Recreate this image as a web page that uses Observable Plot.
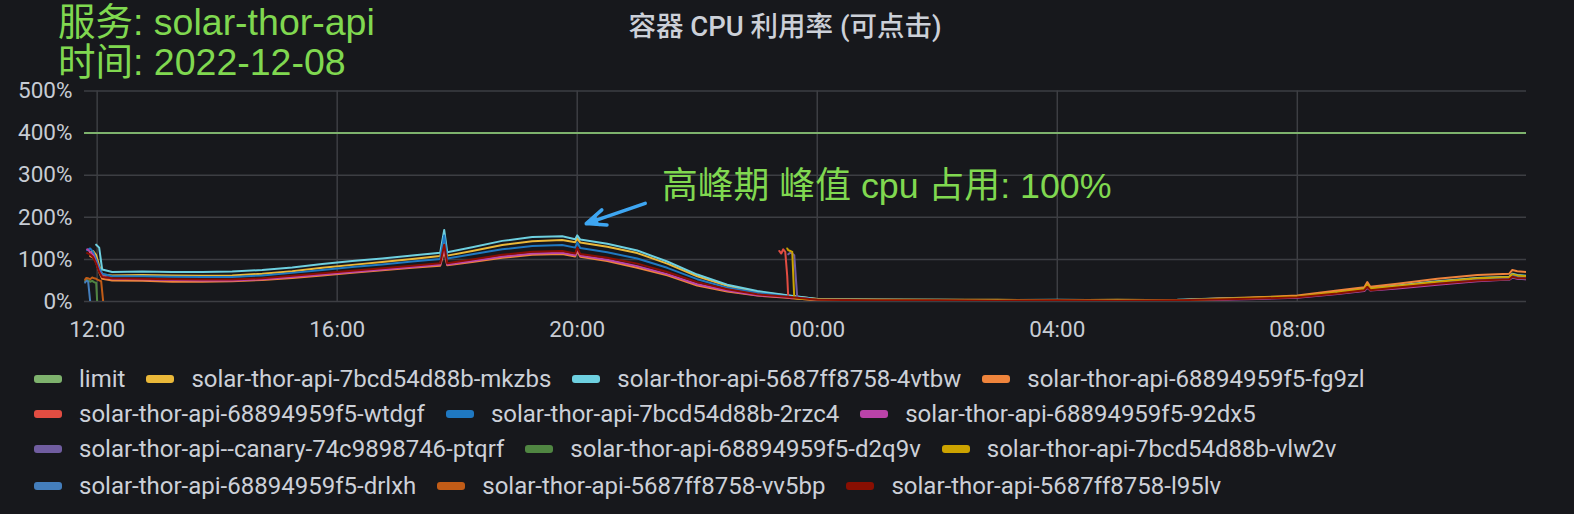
<!DOCTYPE html>
<html><head><meta charset="utf-8">
<script src="https://cdn.jsdelivr.net/npm/d3@7"></script>
<script src="https://cdn.jsdelivr.net/npm/@observablehq/plot@0.6"></script>
<style>
html,body{margin:0;padding:0;background:#17181c;}
#wrap{position:relative;width:1574px;height:514px;overflow:hidden;background:#17181c;}
#chart{position:absolute;left:0;top:0;}
#overlay{position:absolute;left:0;top:0;pointer-events:none;}
.row{position:absolute;left:34px;height:36px;display:flex;align-items:center;white-space:nowrap;}
.item{display:flex;align-items:center;margin-right:21px;}
.sw{width:28px;height:8px;border-radius:3px;margin-right:17px;flex:none;}
.lbl{color:#ccd0d8;font-family:Roboto,sans-serif;font-size:24px;}
</style>
</head><body>
<div id="wrap"><div id="chart"></div><svg id="overlay" width="1574" height="514"></svg><div id="legend"></div></div>
<script>
// ---------- data ----------
const seriesNames = ["limit","solar-thor-api-7bcd54d88b-mkzbs","solar-thor-api-5687ff8758-4vtbw","solar-thor-api-68894959f5-fg9zl",
  "solar-thor-api-68894959f5-wtdgf","solar-thor-api-7bcd54d88b-2rzc4","solar-thor-api-68894959f5-92dx5",
  "solar-thor-api--canary-74c9898746-ptqrf","solar-thor-api-68894959f5-d2q9v","solar-thor-api-7bcd54d88b-vlw2v",
  "solar-thor-api-68894959f5-drlxh","solar-thor-api-5687ff8758-vv5bp","solar-thor-api-5687ff8758-l95lv"];
const seriesColors = ["#7EB26D","#EAB839","#6ED0E0","#EF843C","#E24D42","#1F78C1","#BA43A9","#705DA0","#508642","#CCA300","#447EBC","#C15C17","#890F02"];
const legendRows = [[0,1,2,3],[4,5,6],[7,8,9],[10,11,12]];

const domainTimes = ["11:47:20","11:49:10"];
const xTickLabels = ["12:00","16:00","20:00","00:00","04:00","08:00"];
const yTickValues = [0,100,200,300,400,500];

const limitValues = [400,400];

const oldTimes = ["11:48","11:49","11:51","11:53","11:55","11:57","11:59","12:00","12:02","12:04","12:06"];
const d2q9v = [48,52,50,47,49,46,44,0,null,null,null];
const drlxh = [45,50,47,0,null,null,null,null,null,null,null];
const vv5bp = [52,56,55,53,57,55,54,52,50,48,0];

const dayTimes = ["11:50","11:53","11:56","11:59","12:02","12:05","12:15","12:45","13:15","13:45","14:15","14:45","15:15","15:45","16:15","16:45","17:15","17:43","17:47","17:50","18:15","18:45","19:15","19:45","19:58","20:00","20:03","20:30","21:00","21:30","22:00","22:30","23:00","23:30","00:00","01:00","02:00","03:00","04:00","05:00","06:00","06:40","07:20","08:00","08:40","09:07","09:10","09:13","09:40","10:20","11:00","11:32","11:35","11:40","11:49"];
const v4vtbw = [null,null,null,135,128,76,70,71,70,70,71,75,81,89,96,102,109,116,170,117,129,144,153,155,148,157,147,137,121,95,64,40,25,15,6,4,4,3,4,3,4,7,9,12,23,31,41,32,38,48,56,59,66,63,61];
const mkzbs = [null,116,120,110,85,64,62,63,62,61,62,66,72,80,87,94,101,108,150,109,120,134,143,146,141,150,140,130,115,90,60,37,23,14,6,5,4,4,3,4,3,6,9,12,22,30,38,30,36,46,54,57,63,60,58];
const v2rzc4 = [122,126,118,100,80,66,60,60,59,58,58,62,68,75,82,88,95,101,157,102,112,124,132,134,128,140,127,117,102,80,53,33,20,12,5,4,3,3,3,3,3,6,8,11,21,28,36,28,34,44,52,55,61,58,56];
const l95lv = [115,112,105,90,70,58,55,54,53,52,52,55,61,67,73,79,85,91,135,91,100,111,118,120,114,128,113,104,90,70,46,29,17,11,4,3,3,2,3,2,3,5,7,10,19,27,35,27,33,42,50,53,59,56,55];
const v92dx5 = [124,118,110,92,72,60,54,53,51,50,50,53,58,64,70,76,82,88,129,88,96,107,114,116,110,126,109,99,84,65,41,26,15,10,4,3,2,2,2,3,2,4,6,9,18,25,33,26,31,40,48,52,57,54,53];
const fg9zl = [null,108,104,95,70,54,50,49,47,47,48,51,56,62,68,74,80,85,120,86,94,104,111,113,107,120,106,96,80,62,38,24,14,9,3,3,2,2,2,2,3,7,10,14,26,34,46,35,42,54,63,66,75,72,70];

const nightTimes = ["23:22","23:24","23:26","23:28","23:30","23:31","23:33","23:35","23:37","23:40","23:45","00:00","01:00","02:00","03:00","04:00","05:00","06:00","06:40","07:20","08:00","08:40","09:07","09:10","09:13","09:40","10:20","11:00","11:32","11:35","11:40","11:49"];
const wtdgf = [120,114,124,118,60,9,8,8,8,7,6,5,3,3,3,3,2,3,5,8,11,20,28,37,29,35,45,53,56,62,59,57];
const vlw2v = [null,null,null,null,126,122,120,118,8,7,6,5,4,3,3,3,3,3,6,9,12,22,30,40,31,37,47,55,58,65,62,60];
const canary = [null,null,null,null,null,112,116,114,110,8,7,5,4,3,3,2,3,2,5,7,10,19,26,34,27,33,42,50,52,57,55,53];

// annotation arrow (data coordinates)
const arrowFrom = {time: "21:08", value: 233};
const arrowTo = {time: "20:09", value: 185};
const arrowHead = {time: "20:16:40", value: 191};

// ---------- helpers ----------
function parseSeq(arr) {
  let dayOff = 0, prev = -1;
  return arr.map(s => {
    const p = s.split(":").map(Number);
    const mins = p[0] * 60 + p[1] + (p[2] || 0) / 60;
    if (prev >= 0 && mins < prev) dayOff = 1;
    prev = mins;
    return new Date(2022, 11, 8 + dayOff, p[0], p[1], p[2] || 0);
  });
}
function parseOne(s, startDay) {
  const p = s.split(":").map(Number);
  return new Date(2022, 11, startDay, p[0], p[1], p[2] || 0);
}

const xDomain = [parseOne(domainTimes[0], 8), parseOne(domainTimes[1], 9)];
const groups = [
  [0, xDomain, limitValues],
  [1, parseSeq(dayTimes), mkzbs],
  [2, parseSeq(dayTimes), v4vtbw],
  [3, parseSeq(dayTimes), fg9zl],
  [4, parseSeq(nightTimes), wtdgf],
  [5, parseSeq(dayTimes), v2rzc4],
  [6, parseSeq(dayTimes), v92dx5],
  [7, parseSeq(nightTimes), canary],
  [8, parseSeq(oldTimes), d2q9v],
  [9, parseSeq(nightTimes), vlw2v],
  [10, parseSeq(oldTimes), drlxh],
  [11, parseSeq(oldTimes), vv5bp],
  [12, parseSeq(dayTimes), l95lv]
];
const rows = [];
for (const [si, times, vals] of groups) {
  times.forEach((t, i) => { if (vals[i] != null) rows.push({name: seriesNames[si], time: t, value: vals[i]}); });
}
const xTicks = parseSeq(xTickLabels);
const arrows = [{
  x1: parseOne(arrowFrom.time, 8), y1: arrowFrom.value,
  x2: parseOne(arrowTo.time, 8), y2: arrowTo.value
}];
const heads = [{x: parseOne(arrowHead.time, 8), y: arrowHead.value}];

const grid = "#3d3e43";
const arrowColor = "#3ea6f2";
const chart = Plot.plot({
  width: 1574, height: 345,
  marginLeft: 84, marginRight: 48, marginTop: 90.5, marginBottom: 44,
  style: {background: "transparent", color: "#c7ccd4", fontFamily: "Roboto, sans-serif", fontSize: "22.5px"},
  x: {type: "time", domain: xDomain, ticks: xTicks, tickFormat: d3.timeFormat("%H:%M"), tickSize: 0, tickPadding: 20, label: null},
  y: {domain: [0, 500], ticks: yTickValues, tickFormat: d => d + "%", tickSize: 0, tickPadding: 12, label: null},
  color: {domain: seriesNames, range: seriesColors},
  marks: [
    Plot.ruleY(yTickValues, {stroke: grid, strokeWidth: 1.5}),
    Plot.ruleX(xTicks, {stroke: grid, strokeWidth: 1.5}),
    Plot.line(rows, {x: "time", y: "value", z: "name", stroke: "name", strokeWidth: 2, strokeLinejoin: "round", clip: true}),
    Plot.arrow(arrows, {x1: "x1", y1: "y1", x2: "x2", y2: "y2", stroke: arrowColor, strokeWidth: 3.5, headLength: 12, headAngle: 45}),
    Plot.dot(heads, {x: "x", y: "y", symbol: "triangle", r: 5, fill: arrowColor, stroke: "none", rotate: 251})
  ]
});
document.getElementById("chart").appendChild(chart);

// overlay texts
const ov = d3.select("#overlay");
ov.append("text").attr("x", 785).attr("y", 36).attr("text-anchor", "middle")
  .attr("fill", "#ccd0d8").attr("font-family", "Roboto, 'Noto Sans CJK SC', sans-serif")
  .attr("font-size", 27.5).attr("font-weight", 500).text("容器 CPU 利用率 (可点击)");
const noteFont = "'Liberation Sans', 'Noto Sans CJK SC', sans-serif";
const noteColor = "#80d850";
[["服务: solar-thor-api", 58, 35, 37.5], ["时间: 2022-12-08", 58, 75, 37.5], ["高峰期 峰值 cpu 占用: 100%", 662, 198, 35.8]].forEach(([t, x, y, fs]) => {
  ov.append("text").attr("x", x).attr("y", y).attr("fill", noteColor)
    .attr("font-family", noteFont).attr("font-size", fs).text(t);
});

// legend
const lg = document.getElementById("legend");
const rowCenters = [378.5, 413.8, 449, 485.5];
legendRows.forEach((r, ri) => {
  const row = document.createElement("div");
  row.className = "row";
  row.style.top = (rowCenters[ri] - 18) + "px";
  r.forEach(si => {
    const it = document.createElement("div"); it.className = "item";
    const sw = document.createElement("div"); sw.className = "sw"; sw.style.background = seriesColors[si];
    const lb = document.createElement("span"); lb.className = "lbl"; lb.textContent = seriesNames[si];
    it.appendChild(sw); it.appendChild(lb); row.appendChild(it);
  });
  lg.appendChild(row);
});
</script>
</body></html>
